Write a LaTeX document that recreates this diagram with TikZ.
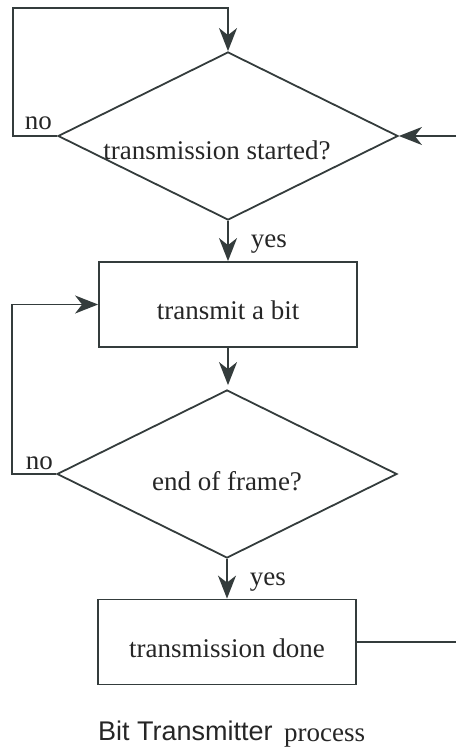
\documentclass[tikz,border=0pt]{standalone}
\usepackage{fontspec}
\setmainfont{Liberation Serif}
\newfontfamily\capfont{Liberation Sans}
\usetikzlibrary{shapes.geometric,arrows.meta,positioning}
\definecolor{ink}{RGB}{52,60,60}
\begin{document}
\begin{tikzpicture}[x=1pt,y=-1pt,
    every node/.style={font=\fontsize{27}{32}\selectfont, text=black!85, inner sep=0pt},
    test/.style={diamond, aspect=2, draw=ink, line width=1.8pt,
      minimum width=340pt, minimum height=168pt, text height=32pt, text depth=0pt},
    stepbox/.style={rectangle, draw=ink, line width=1.8pt,
      minimum width=258pt, minimum height=85pt, text height=30pt, text depth=0pt},
    flow/.style={draw=ink, line width=1.8pt, -{Stealth[length=23pt,width=18pt,inset=7pt]}},
    wire/.style={draw=ink, line width=1.8pt}]
  \useasboundingbox (0,0) rectangle (456,751);
  \node[test, text height=48pt] (started) at (228,136) {\hspace*{-22pt}transmission started?};
  \node[stepbox] (bit) at (228,304.5) {transmit a bit};
  \node[test] (frame) at (227,474) {end of frame?};
  \node[stepbox] (done) at (227,642) {transmission done};
  \coordinate (loopA) at (13,8);
  \coordinate (loopB) at (12,0);
  \coordinate (edgeIn) at (456,136);
  \coordinate (edgeOut) at (456,642);
  \node[anchor=base east] (no1) at ([xshift=-5pt,yshift=6pt]started.west) {no};
  \node[anchor=base east] (no2) at ([xshift=-3pt,yshift=5pt]frame.west) {no};
  \draw[flow] (started.west) -| (loopA) -| (started.north);
  \draw[flow] (edgeIn) -- (started.east);
  \draw[flow] (started.south) -- node[right=22pt, yshift=-3pt] (yes1) {yes} (bit.north);
  \draw[flow, shorten >=4pt] (bit.south) -- (bit.south |- frame.north);
  \draw[flow] (frame.west) -- (frame.west -| loopB) |- (bit.west);
  \draw[flow] (frame.south) -- node[right=22pt, yshift=-3pt] (yes2) {yes} (done.north);
  \draw[wire] (done.east) -- (edgeOut);
  \node[font=\capfont\fontsize{27}{32}\selectfont, anchor=base west] (title) at (98,740) {Bit Transmitter};
  \node[anchor=base west] (proc) at ([xshift=11pt,yshift=-1pt]title.base east) {process};
\end{tikzpicture}
\end{document}
